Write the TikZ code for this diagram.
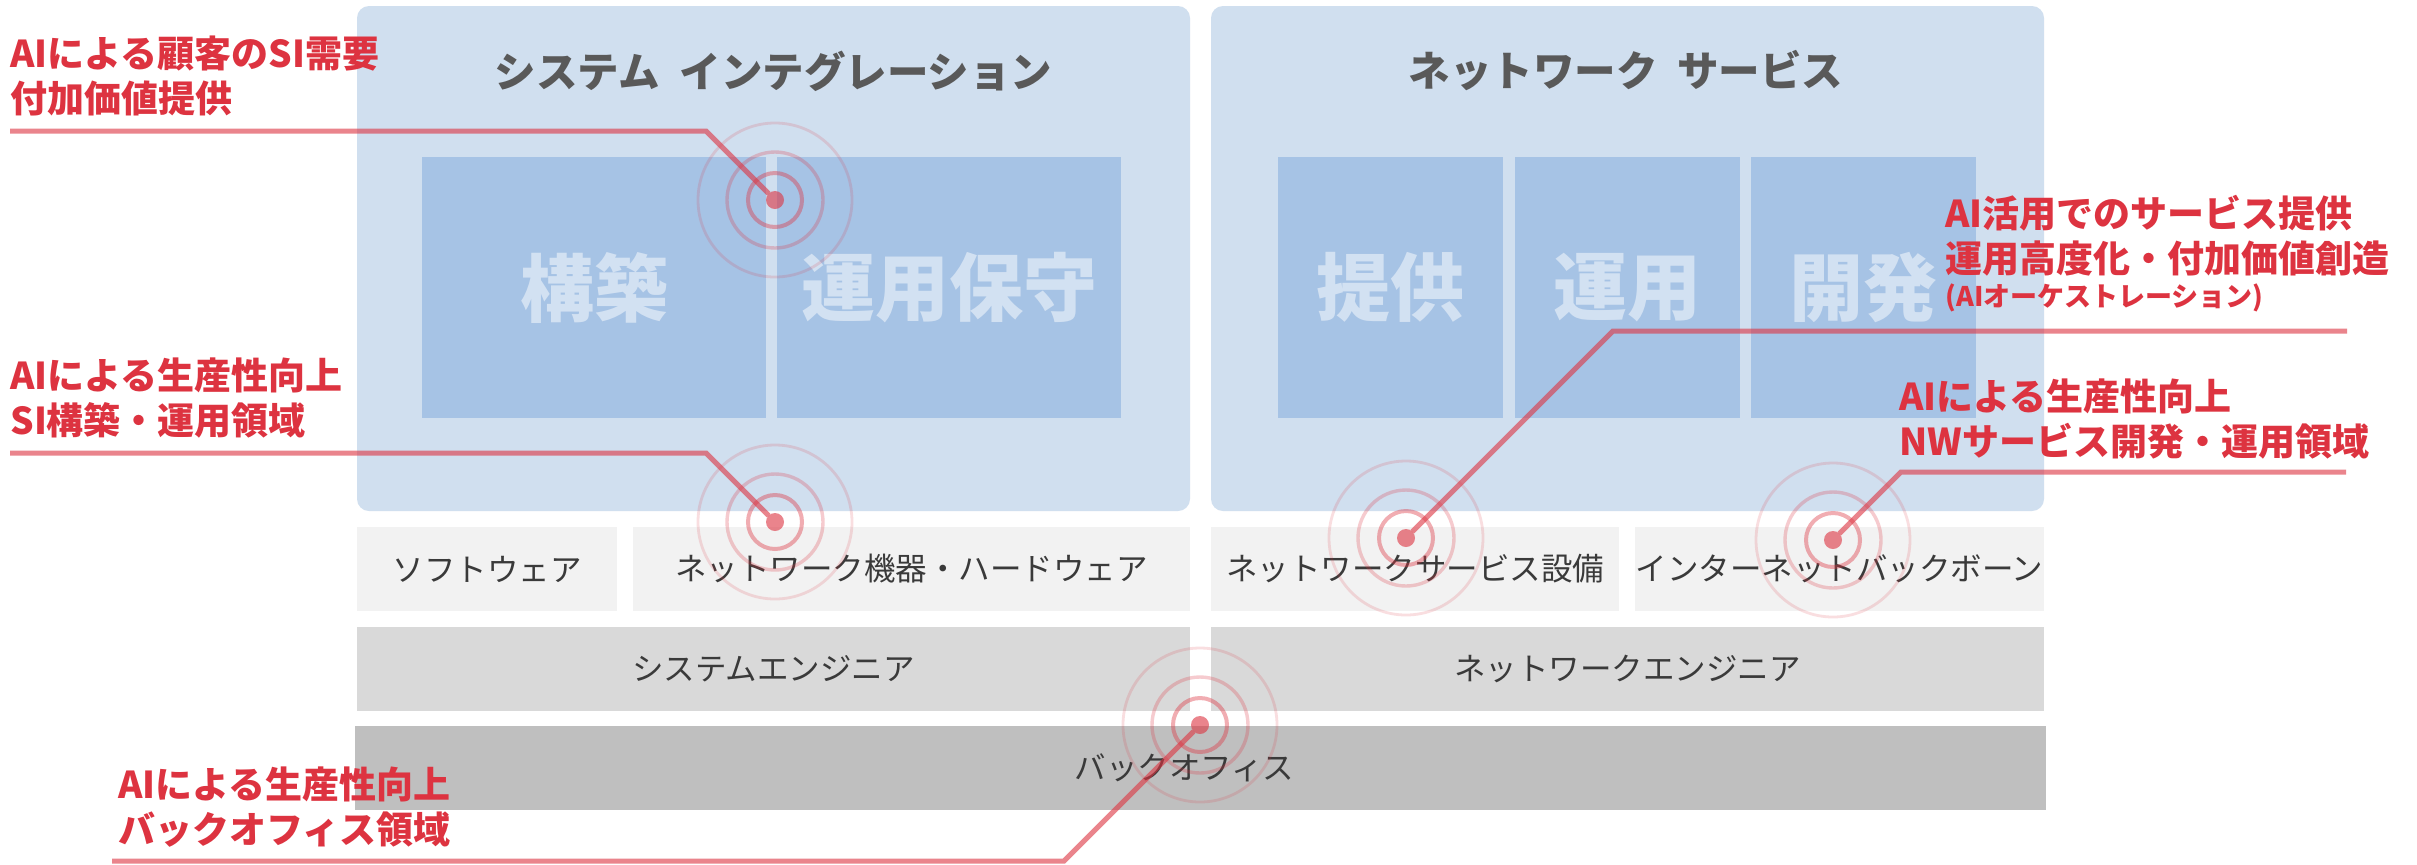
\documentclass[tikz,border=0pt]{standalone}
\usepackage{fontspec}
\setmainfont{Noto Sans CJK JP}
\usepackage{tikz}

\definecolor{aired}{RGB}{221,51,64}
\definecolor{panelblue}{RGB}{208,223,239}
\definecolor{boxblue}{RGB}{166,195,229}
\definecolor{titlegray}{RGB}{89,89,89}
\definecolor{textgray}{RGB}{58,58,58}
\definecolor{rowa}{RGB}{242,242,242}
\definecolor{rowb}{RGB}{217,217,217}
\definecolor{rowc}{RGB}{191,191,191}

\tikzstyle{panel} = [fill=panelblue, rounded corners=6pt, minimum width=416.5pt, minimum height=252.5pt, inner sep=0pt, outer sep=0pt]
\tikzstyle{paneltitle} = [text=titlegray, font=\bfseries\fontsize{20.75pt}{24pt}\selectfont]
\tikzstyle{workbox} = [fill=boxblue, minimum height=130.5pt, inner sep=0pt, outer sep=0pt, text=white, text opacity=0.5, font=\bfseries\fontsize{37pt}{40pt}\selectfont]
\tikzstyle{layer} = [minimum height=42pt, inner sep=0pt, outer sep=0pt, text=textgray, font=\fontsize{15.75pt}{18pt}\selectfont]
\tikzstyle{callout} = [text=aired, align=left, inner sep=0pt, anchor=west, font=\bfseries\fontsize{18.5pt}{22.5pt}\selectfont]
\tikzstyle{leader} = [draw=aired, draw opacity=0.6, line width=2.5pt]
\tikzstyle{target} = [circle, fill=aired, fill opacity=0.6, minimum size=9pt, inner sep=0pt, outer sep=0pt]
\tikzstyle{ringa} = [draw=aired, draw opacity=0.4, line width=2pt]
\tikzstyle{ringb} = [draw=aired, draw opacity=0.25, line width=1.7pt]
\tikzstyle{ringc} = [draw=aired, draw opacity=0.16, line width=1.4pt]

\begin{document}
\begin{tikzpicture}[x=0.5pt, y=-0.5pt]
		\path [use as bounding box, fill=white] (0,0) rectangle (2417,864);

		\node [panel] (si) at (773.5,258.5) {};
		\node [panel, right of=si, node distance=427pt] (nw) {};
		\node [paneltitle] (sititle) at (773.5,71) {システム\hspace{10pt}インテグレーション};
		\node [paneltitle, right of=sititle, node distance=426.25pt] (nwtitle) {ネットワーク\hspace{10pt}サービス};

		\node [workbox, minimum width=172pt] (b1) at (594,287.5) {構築};
		\node [workbox, minimum width=172pt, right of=b1, node distance=177.5pt] (b2) {運用保守};
		\node [workbox, minimum width=112.5pt] (b3) at (1390.5,287.5) {提供};
		\node [workbox, minimum width=112.5pt, right of=b3, node distance=118.5pt] (b4) {運用};
		\node [workbox, minimum width=112.5pt, right of=b4, node distance=118pt] (b5) {開発};

		\node [layer, fill=rowa, minimum width=130pt] (r1) at (487,569) {ソフトウェア};
		\node [layer, fill=rowa, minimum width=278.5pt] (r2) at (911.5,569) {ネットワーク機器・ハードウェア};
		\node [layer, fill=rowa, minimum width=204pt] (r3) at (1415,569) {ネットワークサービス設備};
		\node [layer, fill=rowa, minimum width=204.5pt] (r4) at (1839.5,569) {インターネットバックボーン};
		\node [layer, fill=rowb, minimum width=416.5pt] (e1) at (773.5,669) {システムエンジニア};
		\node [layer, fill=rowb, minimum width=416.5pt, right of=e1, node distance=427pt] (e2) {ネットワークエンジニア};
		\node [layer, fill=rowc, minimum width=845.5pt] (bo) at (1200.5,768) {\hspace*{-16pt}バックオフィス};

		\node [target] (t1) at (775,200) {};
		\node [target] (t2) at (775,522) {};
		\node [target] (t3) at (1200,725) {};
		\node [target] (t4) at (1406,538) {};
		\node [target] (t5) at (1833,540) {};

		\draw [ringa] (t1) circle (13.5pt);
		\draw [ringb] (t1) circle (24pt);
		\draw [ringc] (t1) circle (38.5pt);
		\draw [ringa] (t2) circle (13.5pt);
		\draw [ringb] (t2) circle (24pt);
		\draw [ringc] (t2) circle (38.5pt);
		\draw [ringa] (t3) circle (13.5pt);
		\draw [ringb] (t3) circle (24pt);
		\draw [ringc] (t3) circle (38.5pt);
		\draw [ringa] (t4) circle (13.5pt);
		\draw [ringb] (t4) circle (24pt);
		\draw [ringc] (t4) circle (38.5pt);
		\draw [ringa] (t5) circle (13.5pt);
		\draw [ringb] (t5) circle (24pt);
		\draw [ringc] (t5) circle (38.5pt);

		\coordinate (s1) at (10,131);
		\coordinate (k1) at (706,131);
		\coordinate (s2) at (10,453);
		\coordinate (k2) at (706,453);
		\coordinate (s3) at (112,861);
		\coordinate (k3) at (1064,861);
		\coordinate (s4) at (2347,331);
		\coordinate (k4) at (1613,331);
		\coordinate (s5) at (2346,472);
		\coordinate (k5) at (1901,472);

		\draw [leader] (s1) -- (k1) -- (t1);
		\draw [leader] (s2) -- (k2) -- (t2);
		\draw [leader] (s3) -- (k3) -- (t3);
		\draw [leader] (s4) -- (k4) -- (t4);
		\draw [leader] (s5) -- (k5) -- (t5);

		\node [callout] (a1) at (10,76) {AIによる顧客のSI需要\\付加価値提供};
		\node [callout] (a2) at (10,398) {AIによる生産性向上\\SI構築・運用領域};
		\node [callout] (a3) at (118,807) {AIによる生産性向上\\バックオフィス領域};
		\node [callout] (a4) at (1945,236) {AI活用でのサービス提供\\運用高度化・付加価値創造};
		\node [callout, font=\bfseries\fontsize{13.5pt}{16pt}\selectfont] (a4s) at (1945,298) {(AIオーケストレーション)};
		\node [callout] (a5) at (1899,419) {AIによる生産性向上\\NWサービス開発・運用領域};

\end{tikzpicture}
\end{document}
